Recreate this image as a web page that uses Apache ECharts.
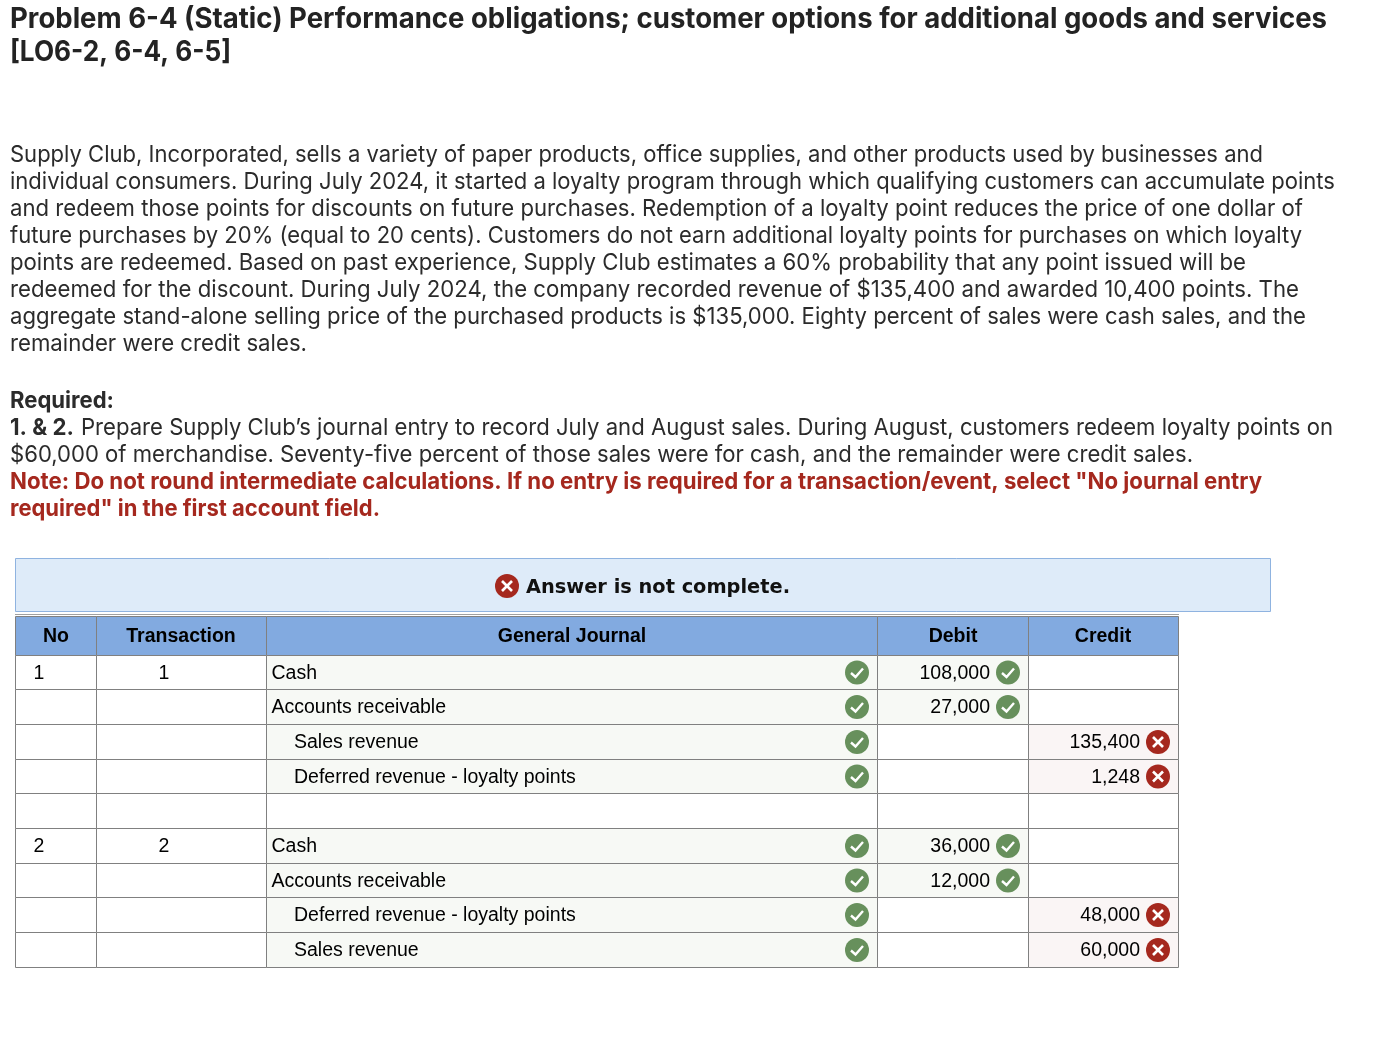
<!DOCTYPE html>
<html>
<head>
<meta charset="utf-8">
<title>Problem 6-4</title>
<style>
  html, body { margin: 0; padding: 0; background: #fff; }
  #main { width: 1400px; height: 1038px; }
</style>
<script src="https://cdn.jsdelivr.net/npm/echarts@6/dist/echarts.min.js"></script>
</head>
<body>
<div id="main"></div>
<script>
// page text
var titleLines = [
  'Problem 6-4 (Static) Performance obligations; customer options for additional goods and services',
  '[LO6-2, 6-4, 6-5]'
];
var bodyLines = [
  'Supply Club, Incorporated, sells a variety of paper products, office supplies, and other products used by businesses and',
  'individual consumers. During July 2024, it started a loyalty program through which qualifying customers can accumulate points',
  'and redeem those points for discounts on future purchases. Redemption of a loyalty point reduces the price of one dollar of',
  'future purchases by 20% (equal to 20 cents). Customers do not earn additional loyalty points for purchases on which loyalty',
  'points are redeemed. Based on past experience, Supply Club estimates a 60% probability that any point issued will be',
  'redeemed for the discount. During July 2024, the company recorded revenue of $135,400 and awarded 10,400 points. The',
  'aggregate stand-alone selling price of the purchased products is $135,000. Eighty percent of sales were cash sales, and the',
  'remainder were credit sales.'
];
var requiredLabel = 'Required:';
var partLabel = '1. & 2.';
var requiredLines = [
  'Prepare Supply Club\u2019s journal entry to record July and August sales. During August, customers redeem loyalty points on',
  '$60,000 of merchandise. Seventy-five percent of those sales were for cash, and the remainder were credit sales.'
];
var noteLines = [
  'Note: Do not round intermediate calculations. If no entry is required for a transaction/event, select "No journal entry',
  'required" in the first account field.'
];
var bannerText = 'Answer is not complete.';

// table
var headers = ['No', 'Transaction', 'General Journal', 'Debit', 'Credit'];
var noCol = ['1', '', '', '', '', '2', '', '', ''];
var transactionCol = ['1', '', '', '', '', '2', '', '', ''];
var accounts = ['Cash', 'Accounts receivable', 'Sales revenue', 'Deferred revenue - loyalty points', '',
  'Cash', 'Accounts receivable', 'Deferred revenue - loyalty points', 'Sales revenue'];
var indented = [0, 0, 1, 1, 0, 0, 0, 1, 1];
var debits = [108000, 27000, null, null, null, 36000, 12000, null, null];
var credits = [null, null, 135400, 1248, null, null, null, 48000, 60000];

// layout (px on the page axes)
var colEdges = [15.5, 96.5, 266.5, 877.5, 1028.5, 1178.5];
var rowEdges = [655.5, 689.5, 724.5, 759.5, 793.5, 828.5, 863.5, 897.5, 932.5, 967.5];
var headerTop = 616.5;

var GREEN = '#67905c', RED = '#a5281e', LINE = '#808080';
var TABLE_FONT = '"Liberation Sans", Arial, sans-serif';
var PAGE_FONT = 'Inter, sans-serif';

var measureCtx = document.createElement('canvas').getContext('2d');
function textWidth(str, font) {
  measureCtx.font = font;
  return measureCtx.measureText(str).width;
}

// page text is stretched a little so each line ends where the original does
function pageLine(str, font, fill, x, y, right) {
  return {
    type: 'text', x: x, y: y, originX: 0, originY: 0,
    scaleX: (right - x) / textWidth(str, font),
    silent: true,
    style: { text: str, font: font, fill: fill, verticalAlign: 'middle', align: 'left' }
  };
}

function icon(api, cx, cy, ok) {
  var c = api.coord([cx, cy]);
  var kids = [{
    type: 'circle', shape: { cx: c[0], cy: c[1], r: 12 },
    style: { fill: ok ? GREEN : RED }
  }];
  if (ok) {
    kids.push({
      type: 'polyline',
      shape: { points: [[c[0] - 6, c[1] + 0.5], [c[0] - 1.5, c[1] + 4.5], [c[0] + 6, c[1] - 4]] },
      style: { stroke: '#fff', lineWidth: 2.4, fill: null }
    });
  } else {
    kids.push({
      type: 'line', shape: { x1: c[0] - 5, y1: c[1] - 5, x2: c[0] + 5, y2: c[1] + 5 },
      style: { stroke: '#fff', lineWidth: 2.6 }
    });
    kids.push({
      type: 'line', shape: { x1: c[0] + 5, y1: c[1] - 5, x2: c[0] - 5, y2: c[1] + 5 },
      style: { stroke: '#fff', lineWidth: 2.6 }
    });
  }
  return kids;
}

function cell(api, col, top, bottom, fill) {
  var a = api.coord([colEdges[col], top]), b = api.coord([colEdges[col + 1], bottom]);
  return {
    type: 'rect',
    shape: { x: a[0], y: a[1], width: b[0] - a[0], height: b[1] - a[1] },
    style: { fill: fill, stroke: LINE, lineWidth: 1 }
  };
}

function label(api, str, x, y, align, bold) {
  var c = api.coord([x, y]);
  return {
    type: 'text',
    style: {
      x: c[0], y: c[1], text: str, align: align, verticalAlign: 'middle', fill: '#000',
      font: (bold ? 'bold ' : '') + '19.5px ' + TABLE_FONT
    }
  };
}

function renderHeader(params, api) {
  var kids = [];
  var centers = [56, 181, 572, 953, 1103];
  headers.forEach(function (h, i) {
    kids.push(cell(api, i, headerTop, rowEdges[0], '#82aae0'));
    kids.push(label(api, h, centers[i], 637, 'center', true));
  });
  return { type: 'group', children: kids };
}

function renderRow(params, api) {
  var i = params.dataIndex;
  var top = rowEdges[i], bottom = rowEdges[i + 1], mid = (top + bottom) / 2;
  var textY = mid + 1;
  var kids = [
    cell(api, 0, top, bottom, '#fff'),
    cell(api, 1, top, bottom, '#fff'),
    cell(api, 2, top, bottom, accounts[i] ? '#f7f9f5' : '#fff'),
    cell(api, 3, top, bottom, debits[i] != null ? '#f7f9f5' : '#fff'),
    cell(api, 4, top, bottom, credits[i] != null ? '#faf5f5' : '#fff')
  ];
  if (noCol[i]) kids.push(label(api, noCol[i], 39, textY, 'center'));
  if (transactionCol[i]) kids.push(label(api, transactionCol[i], 164, textY, 'center'));
  if (accounts[i]) {
    kids.push(label(api, accounts[i], indented[i] ? 294 : 271.5, textY, 'left'));
    kids = kids.concat(icon(api, 857, mid, true));
  }
  if (debits[i] != null) {
    kids.push(label(api, debits[i].toLocaleString('en-US'), 990, textY, 'right'));
    kids = kids.concat(icon(api, 1008, mid, true));
  }
  if (credits[i] != null) {
    kids.push(label(api, credits[i].toLocaleString('en-US'), 1140, textY, 'right'));
    kids = kids.concat(icon(api, 1158, mid, false));
  }
  return { type: 'group', children: kids };
}

// y centre and right edge of each page line
var titleY = [20, 53], titleRight = [1327, 231];
var bodyY = [155, 182, 209, 236, 263, 290, 317, 344];
var bodyRight = [1263, 1335, 1303, 1302, 1246, 1299, 1306, 307];

var pageFont = '23px ' + PAGE_FONT, pageBold = 'bold 23px ' + PAGE_FONT, titleFont = 'bold 28px ' + PAGE_FONT;
var elements = [];
titleLines.forEach(function (t, i) {
  elements.push(pageLine(t, titleFont, '#232323', 10, titleY[i], titleRight[i]));
});
bodyLines.forEach(function (t, i) {
  elements.push(pageLine(t, pageFont, '#2b2b2b', 10, bodyY[i], bodyRight[i]));
});
elements.push(pageLine(requiredLabel, pageBold, '#2b2b2b', 10, 401, 114));
elements.push(pageLine(partLabel, pageBold, '#2b2b2b', 10, 428, 74));
elements.push(pageLine(requiredLines[0], pageFont, '#2b2b2b', 81, 428, 1333));
elements.push(pageLine(requiredLines[1], pageFont, '#2b2b2b', 10, 455, 1193));
elements.push(pageLine(noteLines[0], pageBold, RED, 10, 482, 1262));
elements.push(pageLine(noteLines[1], pageBold, RED, 10, 509, 380));

// answer banner
elements.push({
  type: 'rect', silent: true, shape: { x: 15.5, y: 558.5, width: 1255, height: 53 },
  style: { fill: '#deebf9', stroke: '#8fb3e0', lineWidth: 1 }
});
elements.push({
  type: 'circle', silent: true, shape: { cx: 507, cy: 586, r: 12 }, style: { fill: RED }
});
elements.push({
  type: 'line', silent: true, shape: { x1: 502, y1: 581, x2: 512, y2: 591 },
  style: { stroke: '#fff', lineWidth: 2.6 }
});
elements.push({
  type: 'line', silent: true, shape: { x1: 512, y1: 581, x2: 502, y2: 591 },
  style: { stroke: '#fff', lineWidth: 2.6 }
});
elements.push(pageLine(bannerText, 'bold 20px "DejaVu Sans", sans-serif', '#111', 526, 588, 790));
// thin rule above the table header
elements.push({
  type: 'line', silent: true, shape: { x1: 15, y1: 614.5, x2: 1179, y2: 614.5 },
  style: { stroke: '#a0a0a0', lineWidth: 1 }
});

var chart = echarts.init(document.getElementById('main'), null, { renderer: 'canvas' });
chart.setOption({
  animation: false,
  backgroundColor: '#fff',
  tooltip: { show: false },
  grid: { left: 0, right: 0, top: 0, bottom: 0 },
  xAxis: { type: 'value', min: 0, max: 1400, show: false },
  yAxis: { type: 'value', min: 0, max: 1038, inverse: true, show: false },
  graphic: { elements: elements },
  series: [
    { type: 'custom', silent: true, clip: false, coordinateSystem: 'cartesian2d',
      renderItem: renderHeader, data: [[0, 0]] },
    { type: 'custom', silent: true, clip: false, coordinateSystem: 'cartesian2d',
      renderItem: renderRow, data: accounts.map(function (a, i) { return [0, i]; }) }
  ]
});
</script>
</body>
</html>
